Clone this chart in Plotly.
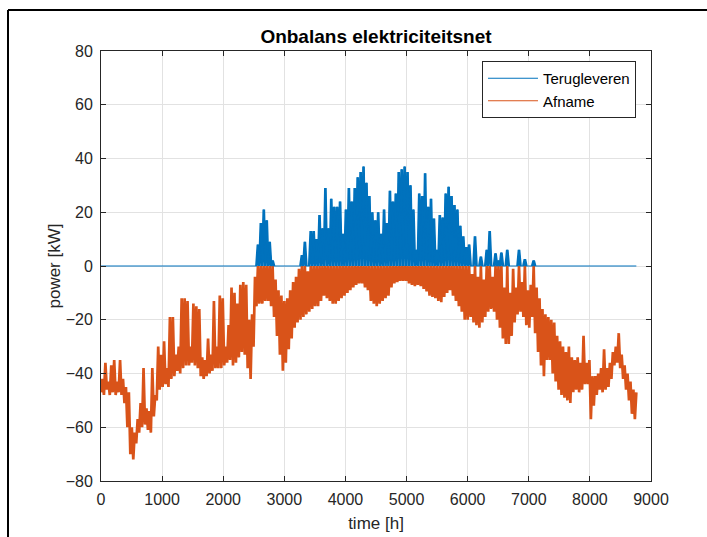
import numpy as np
import plotly.graph_objects as go

# Hourly sampling grid (2-day blocks): night minimum at t, daytime maximum at t+24
t_start = np.arange(0, 8760, 48)

# Net power per 2-day block [kW]: lowest (night) value
p_low = [
    -47, -48, -46, -48, -47, -48, -47, -48, -51, -60,
    -70, -72, -66, -62, -60, -59, -61, -62, -56, -50,
    -46, -45, -44, -45, -42, -41, -39, -40, -38, -37,
    -37, -36, -37, -38, -41, -42, -41, -40, -39, -38,
    -38, -38, -37, -36, -35, -37, -36, -34, -32, -33,
    -38, -42, -30, -15, -14, -14, -13, -13, -15, -19,
    -26, -33, -39, -36, -31, -27, -23, -21, -20, -19,
    -18, -17, -16, -15, -15, -13, -11, -12, -13, -14,
    -14, -13, -12, -11, -10, -9, -8, -7, -6.5, -6.5,
    -8, -9, -13, -14, -15, -14, -13, -12, -11, -8,
    -6.5, -6, -5.5, -5.5, -5.5, -6.5, -7, -7.5, -7, -7.5,
    -8.5, -9.5, -11, -11.5, -12, -13, -13.5, -11.5, -10, -9,
    -11, -13, -15, -17, -20, -20, -19, -21, -22, -23,
    -21, -19, -17, -16, -17, -20, -23, -27, -29, -29,
    -26, -21, -18, -17, -19, -22, -23, -19, -25, -32,
    -37, -41, -35, -35, -40, -43, -46, -48, -49, -50,
    -51, -47, -46, -47, -46, -44, -44, -57, -52, -48,
    -46, -47, -46, -45, -42, -37, -36, -38, -42, -46,
    -50, -55, -57,
]

# Net power per 2-day block [kW]: highest (daytime) value
p_high = [
    -42, -36, -43, -37, -35, -43, -35, -42, -45, -47,
    -60, -62, -57, -51, -38, -53, -54, -38, -48, -30,
    -33, -28, -38, -19, -19, -33, -30, -12, -12, -13,
    -30, -14, -15, -16, -34, -35, -27, -33, -13, -30,
    -11, -12, -30, -22, -8, -10, -14, -7, -6, -7,
    -20, -18, -4, 8, 16, 21, 17, 9, 2, -5,
    -9, -11, -13, -12, -9, -6, -4, -1, 4, 9,
    -2, 13, 13, 10, 19, 14, 29, 14, 25, 22,
    22, 24, 12, 21, 29, 24, 29, 33, 35, 37,
    31, 26, 20, 17, 20, 12, 21, 16, 28, 24,
    27, 35, 36, 37, 35, 30, 21, 6, 27, 26,
    34.5, 22, 25, 17.7, 6, 19, 18, 27, 29.5, 26,
    22.7, 21, 15, 11, 7, 8, -3, 11, -4, 3.5,
    -5, 6, 13, -4, 4.7, 2, 5, -8, 6, -10,
    -1, -8, 6, -6, 2.5, -9, -7, 2, -8, -12,
    -16, -18, -19, -20, -21, -26, -28, -30, -32, -30,
    -34, -35, -34, -36, -26, -36, -35, -41, -41, -40,
    -38, -31, -38, -36, -32, -30, -25, -33, -37, -40,
    -43, -46, -47,
]

series_names = ["Terugleveren", "Afname"]
title_text = "Onbalans elektriciteitsnet"
x_label = "time [h]"
y_label = "power [kW]"

# Interleave into a time series
t = np.empty(2 * len(t_start))
t[0::2] = t_start
t[1::2] = t_start + 24
p = np.empty(2 * len(p_low))
p[0::2] = p_low
p[1::2] = p_high

terug = np.maximum(p, 0)
afname = np.minimum(p, 0)

# blue strokes only where there is feed-in (keeps the zero line thin)
pos = terug > 0
near = pos | np.roll(pos, 1) | np.roll(pos, -1)
terug_strokes = np.where(near, terug, np.nan)

BLUE = "#0072BD"
ORANGE = "#D95319"
FONT = "Liberation Sans, Arial, Helvetica, sans-serif"
AX = "#262626"
W = 2.7

fig = go.Figure()
fig.add_trace(go.Scatter(x=t, y=afname, mode="lines", showlegend=False,
                         line=dict(color=ORANGE, width=W)))
fig.add_trace(go.Scatter(x=t, y=terug_strokes, mode="lines", showlegend=False,
                         line=dict(color=BLUE, width=W), connectgaps=False))
fig.add_trace(go.Scatter(x=t, y=terug, mode="lines", name=series_names[0],
                         line=dict(color=BLUE, width=1.2), legendrank=1))
fig.add_trace(go.Scatter(x=[None], y=[None], mode="lines", name=series_names[1],
                         line=dict(color=ORANGE, width=1.2), legendrank=2))

axis_common = dict(showline=True, linecolor=AX, linewidth=1, mirror="ticks",
                   ticks="inside", ticklen=5, tickcolor=AX, showgrid=True,
                   gridcolor="#e2e2e2", gridwidth=1, zeroline=False, automargin=False,
                   tickfont=dict(family=FONT, size=16, color=AX))

fig.update_xaxes(range=[0, 9000], dtick=1000, tick0=0, ticklabelstandoff=4,
                 title=dict(text=x_label, font=dict(family=FONT, size=17, color=AX), standoff=9),
                 **axis_common)
fig.update_yaxes(range=[-80, 80], dtick=20, tick0=-80, ticklabelstandoff=4,
                 title=dict(text=y_label, font=dict(family=FONT, size=17, color=AX), standoff=0),
                 **axis_common)

fig.update_layout(
    width=707, height=537,
    margin=dict(l=101, r=56, t=51, b=56),
    paper_bgcolor="white", plot_bgcolor="white",
    title=dict(text="<b>" + title_text + "</b>", x=0.5, xref="paper", xanchor="center",
               y=1 - 36 / 537, yanchor="middle",
               font=dict(family=FONT, size=19, color="black")),
    legend=dict(x=0.9727, y=(481 - 61) / 430, xanchor="right", yanchor="top",
                bgcolor="white", bordercolor=AX, borderwidth=1, itemwidth=50,
                font=dict(family=FONT, size=15, color="black")),
    showlegend=True,
    shapes=[
        dict(type="line", xref="paper", yref="paper", x0=(8 - 101) / 550, x1=(8 - 101) / 550,
             y0=(481 - 537) / 430, y1=(481 - 10) / 430, line=dict(color="black", width=2)),
        dict(type="line", xref="paper", yref="paper", x0=(8 - 101) / 550, x1=(707 - 101) / 550,
             y0=(481 - 10) / 430, y1=(481 - 10) / 430, line=dict(color="black", width=2)),
    ],
)

fig.write_html("out.html")
